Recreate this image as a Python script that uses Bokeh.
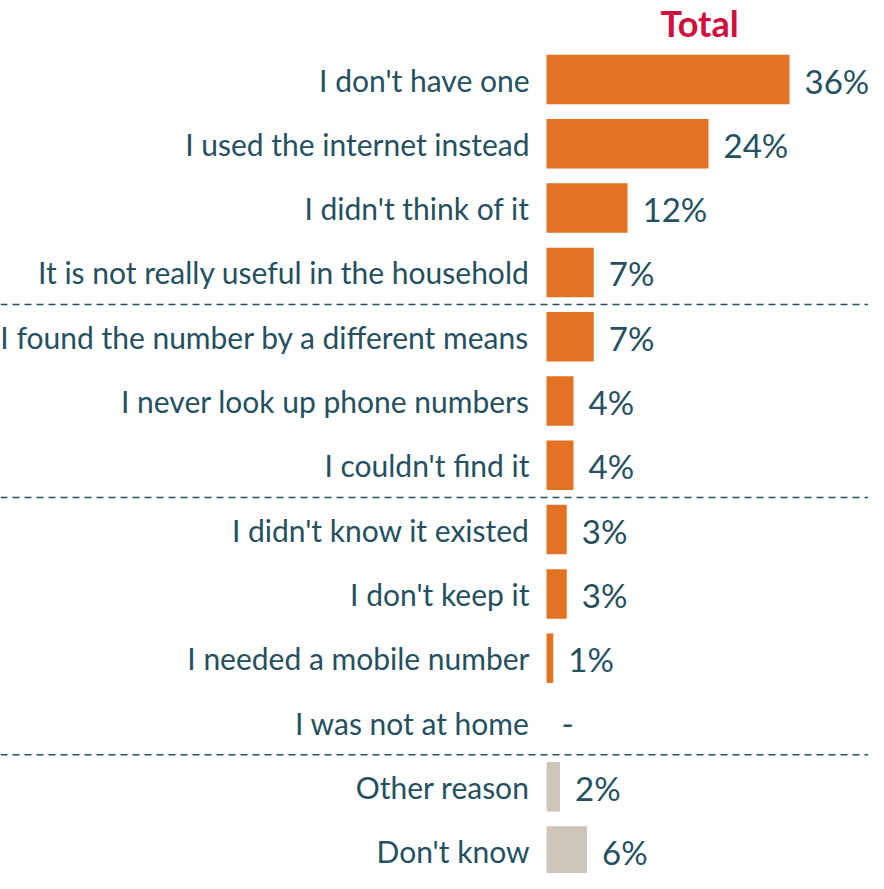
from bokeh.plotting import figure
from bokeh.models import ColumnDataSource, Range1d, Span, Label
from bokeh.core.properties import value
from bokeh.embed import file_html
from bokeh.resources import INLINE

categories = [
    "I don't have one",
    "I used the internet instead",
    "I didn't think of it",
    "It is not really useful in the household",
    "I found the number by a different means",
    "I never look up phone numbers",
    "I couldn't find it",
    "I didn't know it existed",
    "I don't keep it",
    "I needed a mobile number",
    "I was not at home",
    "Other reason",
    "Don't know",
]
values = [36, 24, 12, 7, 7, 4, 4, 3, 3, 1, 0, 2, 6]
value_labels = ["36%", "24%", "12%", "7%", "7%", "4%", "4%", "3%", "3%", "1%", "-", "2%", "6%"]
group_breaks = [3.5, 6.5, 10.5]
title_text = "Total"

ORANGE = "#E37222"
BEIGE = "#CEC5B9"
TEXT = "#24505F"
RED = "#D20F3C"
FONT = "Lato"

W, H = 868, 873
bar_x0 = 546.0
px_per_pct = 6.75
row0 = 79.0
row_step = 64.3

colors = [ORANGE] * 11 + [BEIGE] * 2
ypos = list(range(len(categories)))

src = ColumnDataSource(dict(
    y=ypos, v=values, cat=categories, lab=value_labels, color=colors,
))

p = figure(
    width=W, height=H, output_backend="svg", toolbar_location=None,
    x_range=Range1d(-bar_x0 / px_per_pct, (W - bar_x0) / px_per_pct),
    y_range=Range1d((H - row0) / row_step, -row0 / row_step),
    min_border=0,
)
p.axis.visible = False
p.grid.visible = False
p.outline_line_color = None
p.background_fill_color = "white"
p.border_fill_color = "white"

p.hbar(y="y", left=0, right="v", height=0.77, fill_color="color",
       line_color=None, source=src)

p.text(x=0, y="y", text="cat", source=src, x_offset=-17,
       text_align="right", text_baseline="middle",
       text_font=value(FONT), text_font_size="30px", text_color=TEXT)

p.text(x="v", y="y", text="lab", source=src, x_offset=15, y_offset=1,
       text_align="left", text_baseline="middle",
       text_font=value(FONT), text_font_size="33px", text_color=TEXT)

for b in group_breaks:
    p.add_layout(Span(location=b, dimension="width", line_color=TEXT,
                      line_width=1.5, line_dash="7 5"))

p.add_layout(Label(x=699, y=H - 22, x_units="screen", y_units="screen",
                   text=title_text, text_align="center", text_baseline="middle",
                   text_font=FONT, text_font_style="bold", text_font_size="36px",
                   text_color=RED))

open("out.html", "w").write(file_html(p, INLINE))
